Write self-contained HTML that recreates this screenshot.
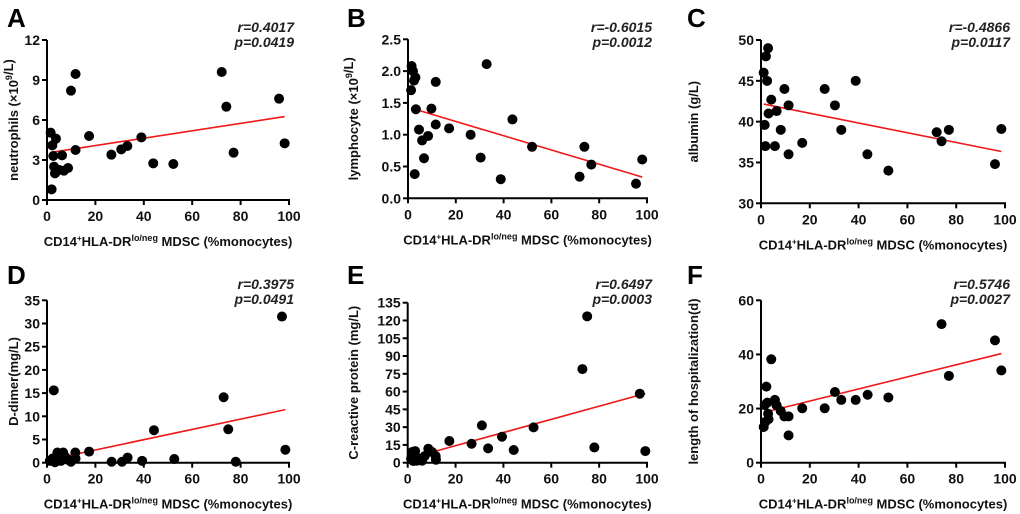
<!DOCTYPE html>
<html><head><meta charset="utf-8"><style>
html,body{margin:0;padding:0;background:#fff;}
svg{display:block;font-family:"Liberation Sans",Arial,sans-serif;}
</style></head><body>
<svg id="fig" width="1020" height="514" viewBox="0 0 1020 514" xmlns="http://www.w3.org/2000/svg"></svg>
<script>
// Panel A - neutrophils
const xA = [1.5,2.2,2.6,3.7,2.9,3.3,5.1,6.2,7,8.7,1.9,9.9,11.8,11.8,17.4,26.6,30.7,33.2,39,43.9,52.2,72.2,74.1,77.1,95.9,98.2];
const yA = [5.05,4.1,3.3,4.6,2.5,2.0,2.25,3.35,2.2,2.4,0.8,8.2,9.45,3.75,4.8,3.4,3.8,4.05,4.7,2.75,2.7,9.6,7.0,3.55,7.6,4.25];
const ticksA = [0,3,6,9,12];
// Panel B - lymphocyte
const xB = [1.5,2.1,1.3,2.5,3.1,3.3,4.6,5.9,6.7,8.4,9.8,11.6,11.6,2.8,17.2,26.2,30.4,32.9,38.8,43.7,51.9,71.8,73.8,76.7,95.4,98];
const yB = [2.08,2.0,1.70,1.85,1.9,1.40,1.08,0.91,0.63,0.98,1.41,1.83,1.16,0.38,1.10,1.00,0.64,2.11,0.30,1.24,0.81,0.34,0.81,0.53,0.23,0.61];
const ticksB = [0,0.5,1,1.5,2,2.5];
// Panel C - albumin
const xC = [1.1,2,2.9,2.5,1.5,1.8,3.1,4.2,6.4,5.7,8.1,9.6,11.3,11.3,16.9,26.1,30.3,32.9,38.8,43.6,52.2,72,74,77,95.9,98.5];
const yC = [46,48,49,45,39.6,37,41,42.7,41.3,37,39,44,42,36,37.4,44,42,39,45,36,34,38.7,37.6,39,34.8,39.1];
const ticksC = [30,35,40,45,50];
// Panel D - D-dimer
const xD = [2.8,97.1,73,74.9,44.2,98.5,17.4,11.7,4.3,6.7,11.8,8.8,9.9,1.2,2.3,3.3,5.8,7.6,26.7,31,33.3,39.3,52.6,78,4.7];
const yD = [15.6,31.5,14.1,7.2,7.0,2.8,2.4,2.2,2.2,2.2,0.9,0.6,0.2,0.4,0.9,0.1,0.4,1.2,0.2,0.2,1.1,0.4,0.8,0.2,1.2];
const ticksD = [0,5,10,15,20,25,30,35];
// Panel E - CRP
const xE = [75,73,97,99.3,78,52.6,44.3,39.4,31,33.6,26.7,17.4,8.6,10.2,11.7,11.8,7.1,6,1.9,3.1,1.4,2.4,3.8,4.9,3.2];
const yE = [123.5,79,58.2,9.8,12.9,29.8,10.7,21.9,31.5,12.1,16,18.3,11.8,9,5.6,2.5,5.6,1.7,9,9.8,3.4,1.4,1.7,3.4,5.6];
const ticksE = [0,15,30,45,60,75,90,105,120,135];
// Panel F - hospitalization
const xF = [74,95.9,98.5,77,52.2,43.7,38.8,32.9,30.3,26.1,16.9,11.3,11.3,9.6,8.1,6.4,5.7,4.2,2.9,3.1,2.2,2.6,1.5,1.8,1.1];
const yF = [51.2,45.2,34.1,32.1,24.1,25.1,23.2,23.2,26.1,20.1,20.1,10.1,17.1,17.1,19.1,21.2,23.2,38.2,18.1,16.1,28.1,22.2,21.3,15.1,13.2];
const ticksF = [0,20,40,60];
const xTicks = [0,20,40,60,80,100];
const letters = ['A','B','C','D','E','F'];
const rVals = ['r=0.4017','r=-0.6015','r=-0.4866','r=0.3975','r=0.6497','r=0.5746'];
const pVals = ['p=0.0419','p=0.0012','p=0.0117','p=0.0491','p=0.0003','p=0.0027'];

const NS='http://www.w3.org/2000/svg';
const svg=document.getElementById('fig');
function mk(tag,attrs,parent){const e=document.createElementNS(NS,tag);for(const k in attrs)e.setAttribute(k,attrs[k]);(parent||svg).appendChild(e);return e;}

const panels=[
 {id:'a',xs:xA,ys:yA,ticks:ticksA,x0:47,x1:289,yb:200,yt:40,ox:0,oy:0,yl:[['neutrophils (×10',''],['9','sup'],['/L)','']],fmt:v=>String(v)},
 {id:'b',xs:xB,ys:yB,ticks:ticksB,x0:408,x1:647,yb:198.3,yt:39.3,ox:340,oy:0,yl:[['lymphocyte (×10',''],['9','sup'],['/L)','']],fmt:v=>v.toFixed(1)},
 {id:'c',xs:xC,ys:yC,ticks:ticksC,x0:761,x1:1005,yb:203.3,yt:40,ox:680,oy:0,yl:[['albumin (g/L)','']],fmt:v=>String(v)},
 {id:'d',xs:xD,ys:yD,ticks:ticksD,x0:47,x1:289,yb:462.7,yt:300.3,ox:0,oy:257,yl:[['D-dimer(mg/L)','']],fmt:v=>String(v)},
 {id:'e',xs:xE,ys:yE,ticks:ticksE,x0:407.7,x1:647,yb:462.7,yt:302.7,ox:340,oy:257,yl:[['C-reactive protein (mg/L)','']],fmt:v=>String(v)},
 {id:'f',xs:xF,ys:yF,ticks:ticksF,x0:761,x1:1005,yb:462.7,yt:300.3,ox:680,oy:257,yl:[['length of hospitalization(d)','']],fmt:v=>String(v)}
];

panels.forEach((p,i)=>{
 const g=mk('g',{});
 
 
 const tmin=p.ticks[0],tmax=p.ticks[p.ticks.length-1];
 const sx=v=>p.x0+(v/100)*(p.x1-p.x0);
 const sy=v=>p.yb-(v-tmin)/(tmax-tmin)*(p.yb-p.yt);
 const L=mk('text',{x:p.ox+7,y:p.oy+27,'font-size':26,'font-weight':'bold',fill:'#000'},g);
 L.textContent=letters[i];
 
 
 const rx=p.x1+5;
 const r=mk('text',{x:rx,y:p.oy+32,'font-size':14,'font-weight':'bold','font-style':'italic','text-anchor':'end',fill:'#222'},g);
 r.textContent=rVals[i];
 
 
 const pv=mk('text',{x:rx,y:p.oy+47,'font-size':14,'font-weight':'bold','font-style':'italic','text-anchor':'end',fill:'#222'},g);
 pv.textContent=pVals[i];
 
 
 const ya=mk('line',{x1:p.x0,y1:p.yt,x2:p.x0,y2:p.yb+1,stroke:'#000','stroke-width':2},g);
 
 
 const xa=mk('line',{x1:p.x0-1,y1:p.yb,x2:p.x1+1,y2:p.yb,stroke:'#000','stroke-width':2},g);
 
 
 p.ticks.forEach(t=>{
  const y=sy(t);
  mk('line',{x1:p.x0-5,y1:y,x2:p.x0,y2:y,stroke:'#000','stroke-width':2},g);
  const tl=mk('text',{x:p.x0-7,y:y+5,'font-size':14,'font-weight':'bold','text-anchor':'end',fill:'#111'},g);
  tl.textContent=p.fmt(t);
  
  
 });
 xTicks.forEach(t=>{
  const x=sx(t);
  mk('line',{x1:x,y1:p.yb,x2:x,y2:p.yb+5,stroke:'#000','stroke-width':2},g);
  const tl=mk('text',{x:x,y:p.yb+21,'font-size':14,'font-weight':'bold','text-anchor':'middle',fill:'#111'},g);
  tl.textContent=String(t);
  
  
 });
 const xt=mk('text',{x:(p.x0+p.x1)/2,y:p.yb+46,'font-size':13,'font-weight':'bold','text-anchor':'middle',fill:'#111'},g);
 
 
 xt.innerHTML='CD14<tspan dy="-5" font-size="8">+</tspan><tspan dy="5">HLA-DR</tspan><tspan dy="-5" font-size="9">lo/neg</tspan><tspan dy="5"> MDSC (%monocytes)</tspan>';
 const cy=(p.yb+p.yt)/2, cx=p.ox+15;
 const yt=mk('text',{x:cx,y:cy,'font-size':13,'font-weight':'bold','text-anchor':'middle',fill:'#111',transform:`rotate(-90 ${cx} ${cy})`,'dominant-baseline':'middle'},g);
 
 
 let html='';p.yl.forEach(s=>{html+= s[1]==='sup'?`<tspan dy="-5" font-size="9">${s[0]}</tspan><tspan dy="5"></tspan>`:`<tspan>${s[0]}</tspan>`;});
 yt.innerHTML=html;
 const n=p.xs.length;let mx=0,my=0;for(let k=0;k<n;k++){mx+=p.xs[k];my+=p.ys[k];}mx/=n;my/=n;
 let sxy=0,sxx=0;for(let k=0;k<n;k++){sxy+=(p.xs[k]-mx)*(p.ys[k]-my);sxx+=(p.xs[k]-mx)**2;}
 const b=sxy/sxx,a=my-b*mx;const xmin=Math.min(...p.xs),xmax=Math.max(...p.xs);
 const fl=mk('line',{x1:sx(xmin),y1:sy(a+b*xmin),x2:sx(xmax),y2:sy(a+b*xmax),stroke:'#f01818','stroke-width':1.6},g);
 
 
 for(let k=0;k<n;k++){
  const c=mk('circle',{cx:sx(p.xs[k]),cy:sy(p.ys[k]),r:5,fill:'#000'},g);
  
  
 }
});
</script>
</body></html>
